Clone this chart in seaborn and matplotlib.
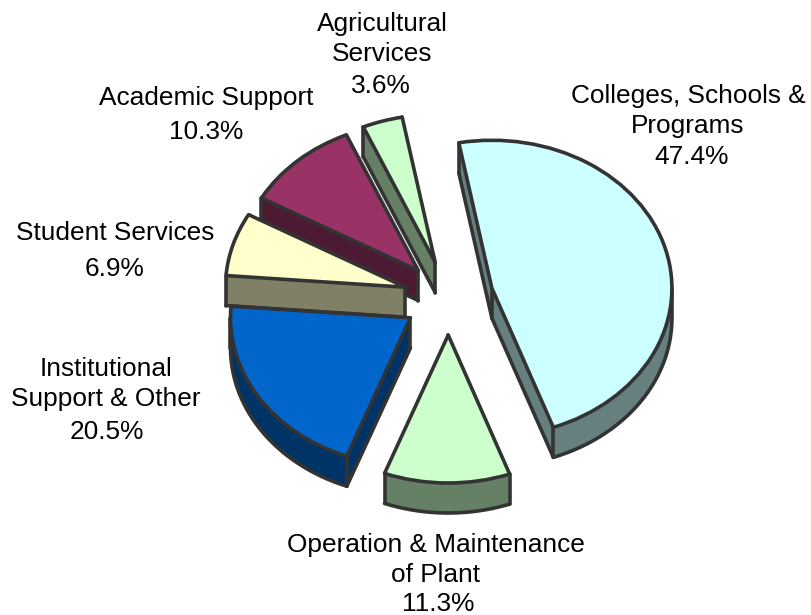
import numpy as np
import matplotlib.pyplot as plt
import seaborn as sns

# ---- data ----
names = ['Colleges, Schools &\nPrograms', 'Operation & Maintenance\nof Plant',
         'Institutional\nSupport & Other', 'Student Services',
         'Academic Support', 'Agricultural\nServices']
shares = [47.4, 11.3, 20.5, 6.9, 10.3, 3.6]
top_colors = ['#CCFFFF', '#CCFFCC', '#0066CC', '#FFFFCC', '#993366', '#CCFFCC']
side_colors = ['#668080', '#668066', '#003366', '#808066', '#4D1A33', '#668066']
# back to front, index into the lists above
draw_rank = [3, 5, 4, 2, 1, 0]
name_pos = [(688, 111), (436, 560), (106, 384), (115, 233), (206, 98), (382, 39)]
share_pos = [(692, 157), (438, 604), (107, 432), (115, 269), (206, 132), (381, 86)]

sns.set_theme(style='white')
plt.rcParams['font.family'] = ['Liberation Sans', 'DejaVu Sans']

W, H = 812, 615
CX, CY = 448.5, 298    # pie centre in pixels
RX, RY = 180, 148      # squashed radius in pixels
DEPTH = 30             # extrusion in pixels
EDGE = '#333333'
LW = 2.6

fig = plt.figure(figsize=(W / 100, H / 100), dpi=100)
ax = fig.add_axes([0, 0, 1, 1])
pie_args = dict(explode=[0.25] * len(shares), startangle=100.6, counterclock=False)

# side layers, from the bottom up
for d in range(DEPTH, -1, -1):
    wedges, _ = ax.pie(shares, colors=side_colors, center=(0, -d / RY),
                       wedgeprops=dict(linewidth=0.6), **pie_args)
    for w, c, rank in zip(wedges, side_colors, draw_rank):
        w.set_zorder(rank * 10 + 1)
        w.set_edgecolor(c)

# top face
wedges, _ = ax.pie(shares, colors=top_colors,
                   wedgeprops=dict(linewidth=LW, edgecolor=EDGE, joinstyle='round'),
                   **pie_args)
drop = DEPTH / RY
line_style = dict(color=EDGE, lw=LW, solid_capstyle='round', solid_joinstyle='round')
for w, rank in zip(wedges, draw_rank):
    w.set_zorder(rank * 10 + 5)
    x0, y0 = w.center
    t1, t2 = w.theta1, w.theta2
    z = rank * 10 + 3

    # vertical edges: slice corners plus the far left/right of the ellipse
    angles = [t1, t2] + [a for a in (-360, -180, 0, 180, 360) if t1 < a < t2]
    xs = [x0] + [x0 + w.r * np.cos(np.radians(a)) for a in angles]
    ys = [y0] + [y0 + w.r * np.sin(np.radians(a)) for a in angles]
    for x, y in zip(xs, ys):
        ax.plot([x, x], [y, y - drop], zorder=z, **line_style)

    # bottom rim: only the front part of the arc shows
    arc = np.linspace(t1, t2, 300)
    arc = arc[np.sin(np.radians(arc)) <= 0]
    if len(arc):
        ax.plot(x0 + w.r * np.cos(np.radians(arc)),
                y0 - drop + w.r * np.sin(np.radians(arc)), zorder=z, **line_style)

    # bottom of the two cut faces, if the face looks toward the viewer
    for a, normal in ((t1, t1 - 90), (t2, t2 + 90)):
        if np.sin(np.radians(normal)) < 0:
            ax.plot([x0, x0 + w.r * np.cos(np.radians(a))],
                    [y0 - drop, y0 - drop + w.r * np.sin(np.radians(a))],
                    zorder=z, **line_style)

ax.set_aspect('auto')
ax.set_xlim(-CX / RX, (W - CX) / RX)
ax.set_ylim((CY - H) / RY, CY / RY)
ax.axis('off')

for name, share, (nx, ny), (sx, sy) in zip(names, shares, name_pos, share_pos):
    fig.text(nx / W, 1 - ny / H, name, ha='center', va='center',
             fontsize=18.9, color='black', linespacing=1.28)
    fig.text(sx / W, 1 - sy / H, f'{share}%', ha='center', va='center',
             fontsize=18.9, color='black')

plt.savefig('out.png', dpi=100)
